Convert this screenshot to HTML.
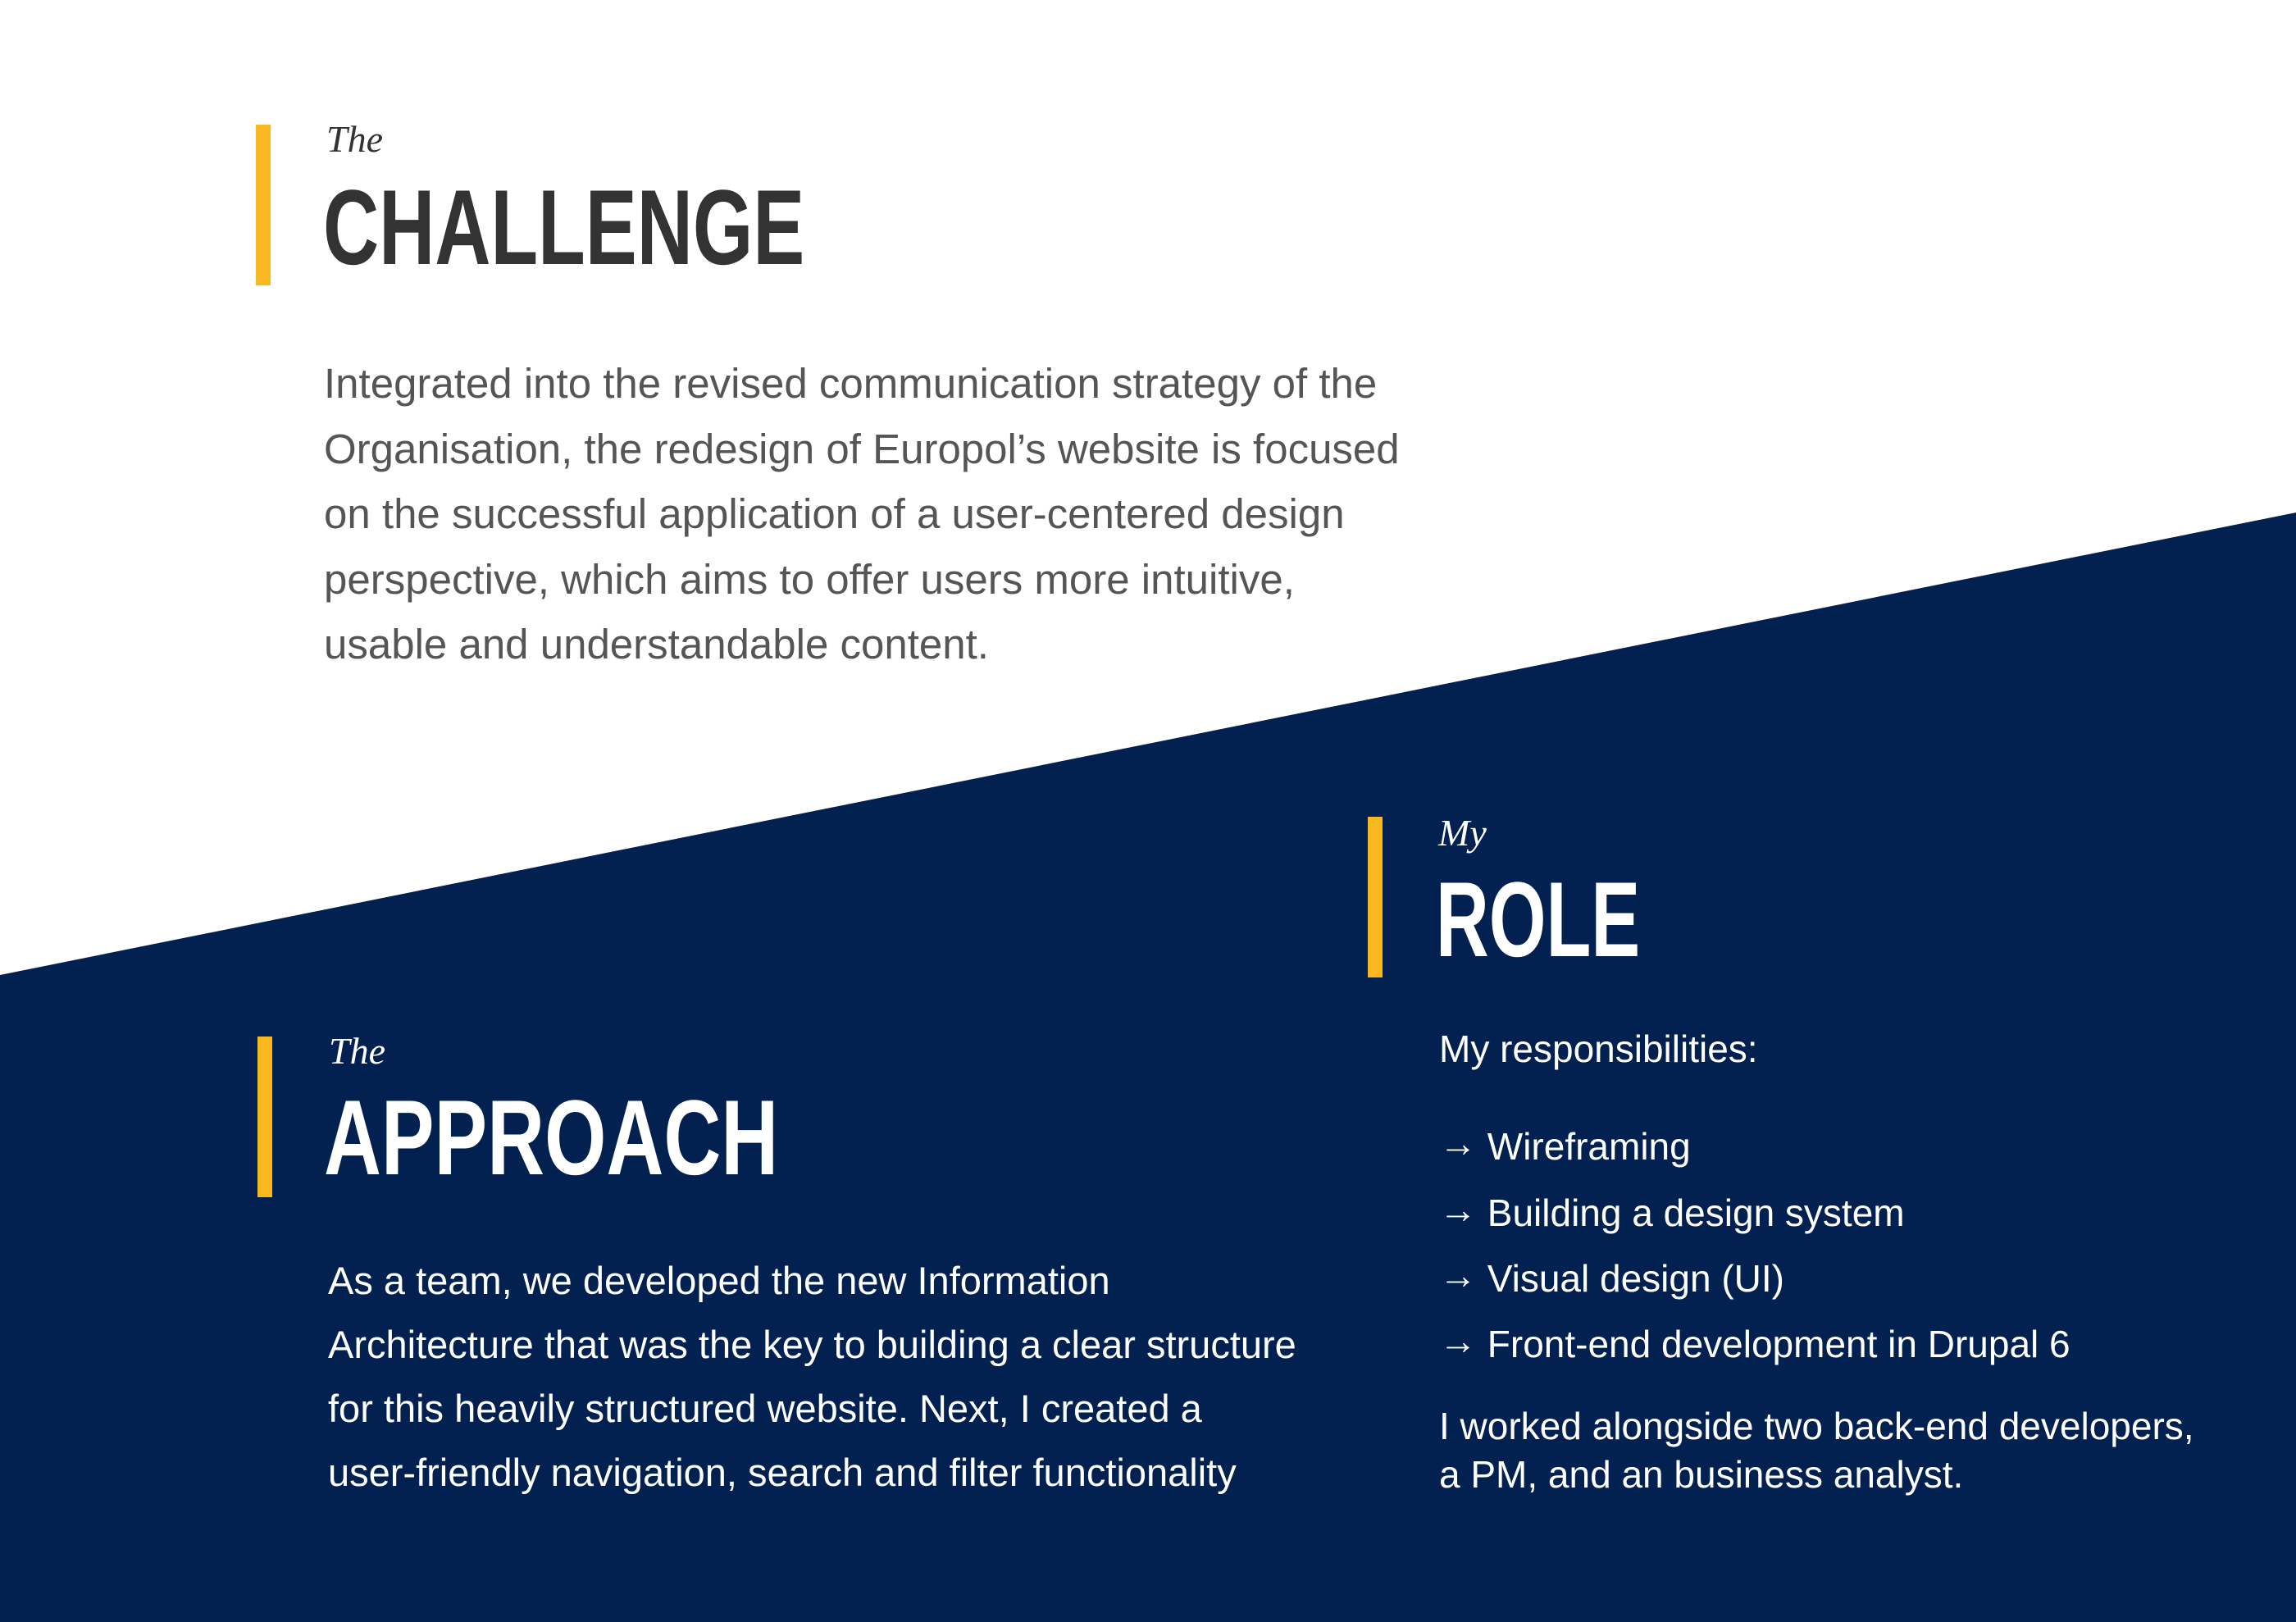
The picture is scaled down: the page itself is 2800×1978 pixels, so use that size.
<!DOCTYPE html>
<html><head><meta charset="utf-8"><style>
html,body{margin:0;padding:0}
body{width:2800px;height:1978px;position:relative;overflow:hidden;background:#fff;font-family:"Liberation Sans",sans-serif}
.a{position:absolute;white-space:nowrap}
.bar{position:absolute;width:18px;height:196px;background:#F9B820}
.pre{font-family:"Liberation Serif",serif;font-style:italic;font-size:46px;line-height:1}
.h{font-weight:bold;font-size:130px;line-height:1;transform-origin:0 0}
.p{font-size:46px}
.ar{position:relative;top:-4px}
</style></head><body>
<svg class="a" style="left:0;top:0" width="2800" height="1978"><polygon points="0,1189 2800,625 2800,1978 0,1978" fill="#022150"/></svg>

<div class="bar" style="left:312px;top:152px"></div>
<div class="a pre" style="left:398px;top:147px;color:#333">The</div>
<div class="a h" style="left:394px;top:212px;color:#333;transform:scaleX(0.726)">CHALLENGE</div>
<div class="a" style="left:395px;top:428px;font-size:51px;line-height:79.5px;color:#555">
Integrated into the revised communication strategy of the<br>
Organisation, the redesign of Europol’s website is focused<br>
on the successful application of a user-centered design<br>
perspective, which aims to offer users more intuitive,<br>
usable and understandable content.</div>

<div class="bar" style="left:314px;top:1264px"></div>
<div class="a pre" style="left:401px;top:1259px;color:#fff">The</div>
<div class="a h" style="left:395px;top:1322px;color:#fff;transform:scaleX(0.745)">APPROACH</div>
<div class="a" style="left:400px;top:1523px;font-size:47px;line-height:78px;color:#fff">
As a team, we developed the new Information<br>
Architecture that was the key to building a clear structure<br>
for this heavily structured website. Next, I created a<br>
user-friendly navigation, search and filter functionality</div>

<div class="bar" style="left:1668px;top:996px"></div>
<div class="a pre" style="left:1754px;top:993px;color:#fff">My</div>
<div class="a h" style="left:1751px;top:1056px;color:#fff;transform:scaleX(0.69)">ROLE</div>
<div class="a p" style="left:1755px;top:1253px;line-height:52px;color:#fff">My responsibilities:</div>
<div class="a p" style="left:1755px;top:1372px;line-height:52px;color:#fff"><span class="ar">→</span> Wireframing</div>
<div class="a p" style="left:1755px;top:1453px;line-height:52px;color:#fff"><span class="ar">→</span> Building a design system</div>
<div class="a p" style="left:1755px;top:1533px;line-height:52px;color:#fff"><span class="ar">→</span> Visual design (UI)</div>
<div class="a p" style="left:1755px;top:1613px;line-height:52px;color:#fff"><span class="ar">→</span> Front-end development in Drupal 6</div>
<div class="a p" style="left:1755px;top:1710px;line-height:59px;color:#fff">I worked alongside two back-end developers,<br>a PM, and an business analyst.</div>
</body></html>
